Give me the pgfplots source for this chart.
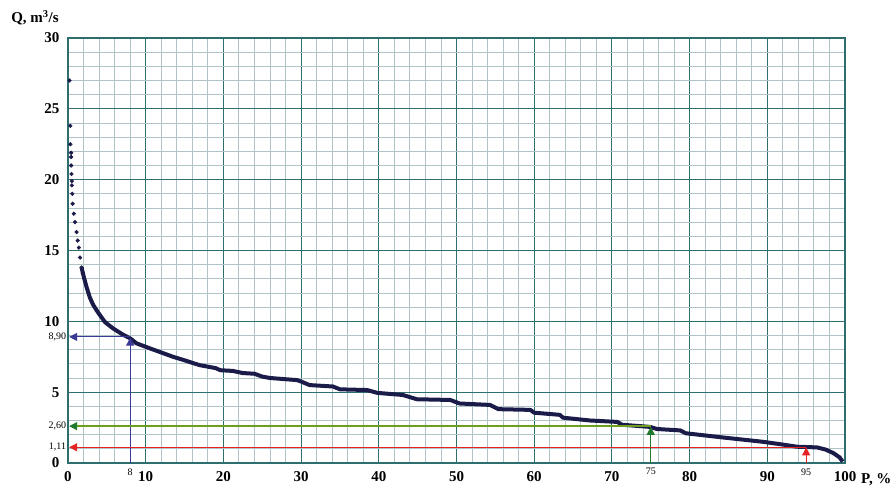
\documentclass[border=0pt]{standalone}
\usepackage{pgfplots}
\pgfplotsset{compat=1.18}
\usetikzlibrary{arrows.meta}
\usepackage{fontspec}
\setmainfont{Liberation Serif}
\definecolor{majg}{HTML}{2F6E6E}
\definecolor{ming}{HTML}{AFC2C6}
\definecolor{curve}{HTML}{1B1B4A}
\definecolor{blu}{HTML}{3A3A96}
\definecolor{grnl}{HTML}{6E9E1E}
\definecolor{grnd}{HTML}{1F7A2E}
\definecolor{rd}{HTML}{E52222}
\begin{document}
\begin{tikzpicture}
\path[use as bounding box] (-68pt,-25pt) rectangle (827pt,463pt);
\begin{axis}[
  at={(0,0)}, anchor=south west,
  scale only axis, width=777pt, height=425pt,
  xmin=0, xmax=100, ymin=0, ymax=30,
  xtick={0,10,...,100}, ytick={0,5,...,30},
  minor x tick num=4, minor y tick num=4,
  grid=both,
  major grid style={color=majg, line width=1.1pt},
  minor grid style={color=ming, line width=0.9pt},
  major tick length=0pt, minor tick length=0pt,
  axis line style={color=majg, line width=1.2pt},
  tick label style={font=\fontsize{15}{15}\selectfont\bfseries},
  yticklabel style={xshift=-5pt},
  xticklabel style={yshift=-5pt},
  /pgf/number format/assume math mode=true,
  clip=false,
]
% dots at top of curve
\addplot[only marks, mark=*, mark size=1.9pt, color=curve] coordinates {
(0.2,27.0) (0.3,23.8) (0.3,22.5) (0.4,21.9) (0.4,21.6) (0.4,21.0) (0.45,20.4)
(0.5,19.9) (0.5,19.6) (0.55,19.0) (0.6,18.3) (0.75,17.6) (0.9,17.0) (1.1,16.3)
(1.25,15.7) (1.4,15.2) (1.55,14.5) (1.75,13.8) (1.9,13.4)
};
% main thick stepped curve
\addplot[color=curve, line width=4pt, line join=round] coordinates {
(1.75,13.8) (2.05,13.1) (2.4,12.4) (2.8,11.7) (3.25,11.15) (3.9,10.6) (4.75,9.95)
(5.8,9.5) (7.1,9.05) (8,8.8) (8.8,8.45) (10.5,8.1) (12,7.8) (13.5,7.5) (15,7.25)
(16.1,7.05) (17,6.9) (19,6.7) (19.6,6.55) (21.2,6.5) (22.5,6.35) (24,6.3) (25,6.1)
(26,6.0) (29.5,5.85) (30,5.75) (31.1,5.5) (34.1,5.4) (35,5.2) (38.5,5.15) (39.8,4.95)
(43.1,4.8) (44.9,4.5) (49.2,4.45) (50.4,4.2) (54.3,4.1) (55.4,3.8) (59.5,3.75)
(60,3.55) (63.3,3.4) (63.7,3.2) (67.2,3.0) (70.7,2.9) (71.3,2.7) (74.9,2.55)
(75.8,2.4) (78.8,2.3) (79.5,2.1) (83.5,1.85) (86,1.7) (89.4,1.5) (92,1.3)
(93.8,1.15) (96.4,1.1) (97.5,0.95) (98.5,0.7) (99.3,0.4) (99.7,0.1)
};
% blue: P=8, Q=8.90
\addplot[color=blu, line width=1pt, -{Triangle[width=8pt,length=8pt]}] coordinates {(8,8.9) (0.15,8.9)};
\addplot[color=blu, line width=1pt, -{Triangle[width=8pt,length=8pt]}] coordinates {(8,0) (8,8.85)};
% green: P=75, Q=2.60
\addplot[color=grnl, line width=1.4pt, -{Triangle[width=8pt,length=8pt,color=grnd]}] coordinates {(75,2.6) (0.15,2.6)};
\addplot[color=grnd, line width=1.2pt, -{Triangle[width=8pt,length=8pt]}] coordinates {(75,0) (75,2.55)};
% red: P=95, Q=1.11
\addplot[color=rd, line width=1.1pt, -{Triangle[width=8pt,length=8pt]}] coordinates {(95,1.11) (0.15,1.11)};
\addplot[color=rd, line width=1.1pt, -{Triangle[width=8pt,length=8pt]}] coordinates {(95,0) (95,1.1)};
% small labels
\node[anchor=east, font=\fontsize{10}{10}\selectfont, inner sep=1pt] at (axis cs:-0.1,8.9) {8,90};
\node[anchor=east, font=\fontsize{10}{10}\selectfont, inner sep=1pt] at (axis cs:-0.1,2.6) {2,60};
\node[anchor=east, font=\fontsize{10}{10}\selectfont, inner sep=1pt] at (axis cs:-0.1,1.11) {1,11};
\node[anchor=north, font=\fontsize{10}{10}\selectfont, inner sep=1pt] at (axis cs:8,-0.3) {8};
\node[anchor=north, font=\fontsize{10}{10}\selectfont, inner sep=1pt] at (axis cs:75,-0.3) {75};
\node[anchor=north, font=\fontsize{10}{10}\selectfont, inner sep=1pt] at (axis cs:95,-0.3) {95};
\end{axis}
\node[font=\fontsize{15}{15}\selectfont\bfseries] at (-33pt,445pt) {Q, m$^{\mathbf{3}}$/s};
\node[anchor=west, inner sep=0pt, font=\fontsize{15}{15}\selectfont\bfseries] at (793pt,-17pt) {P, \%};
\end{tikzpicture}
\end{document}
